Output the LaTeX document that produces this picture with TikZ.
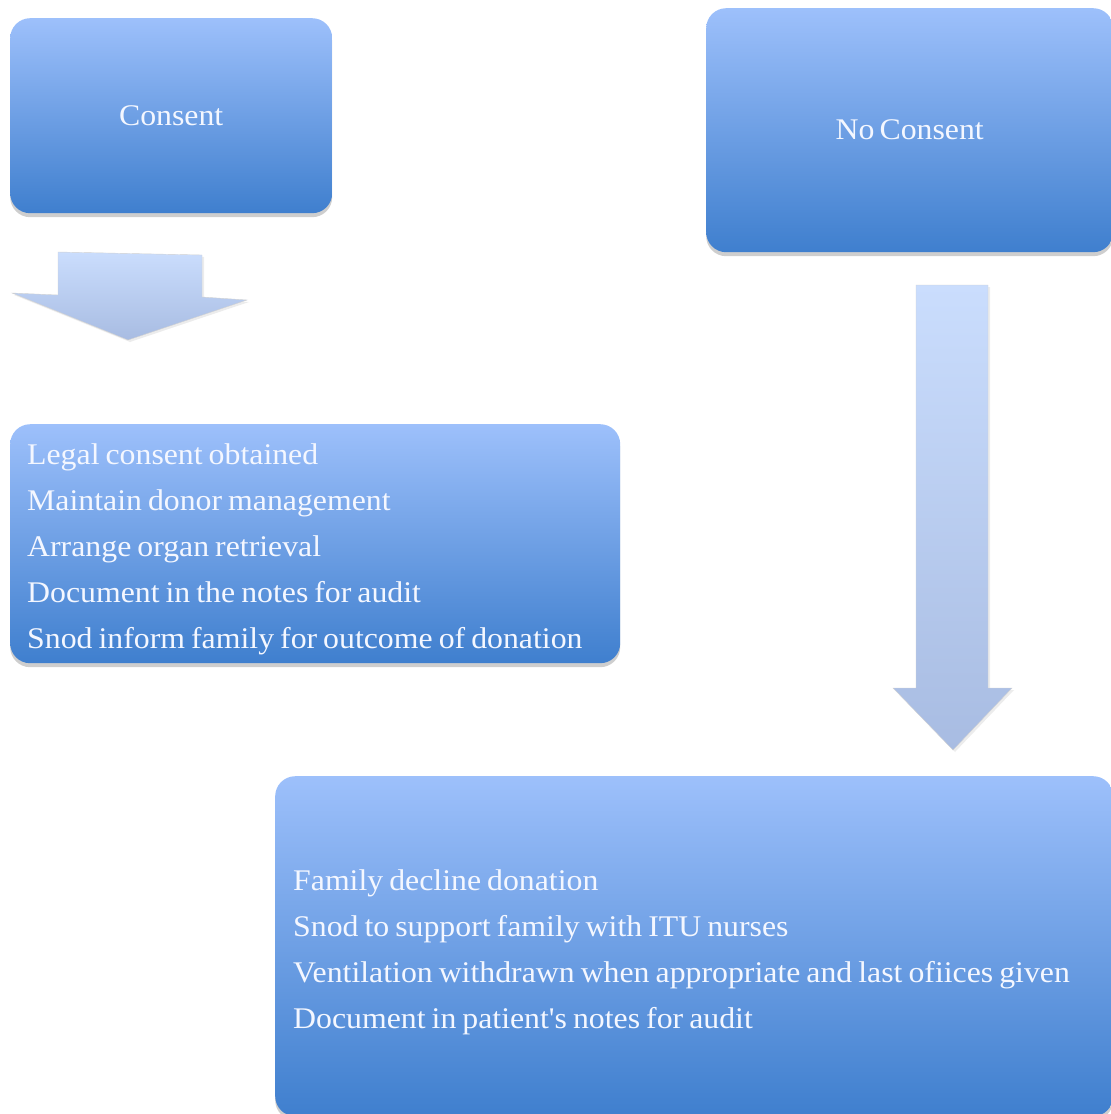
\documentclass[tikz,border=0pt]{standalone}
\usepackage{fontspec}
\setmainfont[FakeStretch=1.06, WordSpace=0.65, Ligatures=TeXOff]{Liberation Serif}
\usetikzlibrary{shadows}

\definecolor{boxtop}{RGB}{157,192,251}
\definecolor{boxbot}{RGB}{63,127,206}
\definecolor{arrtop}{RGB}{202,221,253}
\definecolor{arrbot}{RGB}{168,188,226}
\definecolor{labeltext}{RGB}{244,247,255}

% tighter word spacing and a taller first line for the step lists
\newcommand{\liststart}{\spaceskip=0.2em\relax\rule{0pt}{33pt}}

\tikzset{
  panel/.style={
    rectangle, rounded corners=20pt, anchor=north west,
    top color=boxtop, bottom color=boxbot, draw=none,
    drop shadow={shadow xshift=0pt, shadow yshift=-4pt, opacity=0.35, fill=black!55},
    text=labeltext, font=\fontsize{30}{46}\selectfont
  },
  listpanel/.style={panel, align=left, inner xsep=17pt},
  blockarrow/.style={
    top color=arrtop, bottom color=arrbot, draw=black!18, line width=0.4pt,
    drop shadow={shadow xshift=2pt, shadow yshift=-2pt, opacity=0.15, fill=black!50}
  }
}

\begin{document}
\begin{tikzpicture}[x=1pt, y=-1pt]
  \useasboundingbox (0,0) rectangle (1111,1114);

  % decision outcomes
  \node[panel, minimum width=322pt, minimum height=195pt] (consent) at (10,18) {Consent};
  \node[panel, minimum width=407pt, minimum height=244pt] (noconsent) at (706,8) {No Consent};

  % block arrows leading to the action lists
  \path[blockarrow] (58,252) -- (202,255) -- (202,297) -- (247,300) -- (128,340)
                    -- (12,293) -- (58,295) -- cycle;
  \path[blockarrow] (916,285) -- (988,285) -- (988,688) -- (1012,688) -- (953,750)
                    -- (893,688) -- (916,688) -- cycle;

  % action lists
  \node[listpanel, minimum width=610pt, minimum height=239pt, text width=576pt] (consentsteps) at (10,424)
    {\liststart Legal consent obtained\\
     Maintain donor management\\
     Arrange organ retrieval\\
     Document in the notes for audit\\
     Snod inform family for outcome of donation};
  \node[listpanel, minimum width=838pt, minimum height=340pt, text width=802pt] (declinesteps) at (275,776)
    {\liststart Family decline donation\\
     Snod to support family with ITU nurses\\
     Ventilation withdrawn when appropriate and last ofiices given\\
     Document in patient's notes for audit};
\end{tikzpicture}
\end{document}
